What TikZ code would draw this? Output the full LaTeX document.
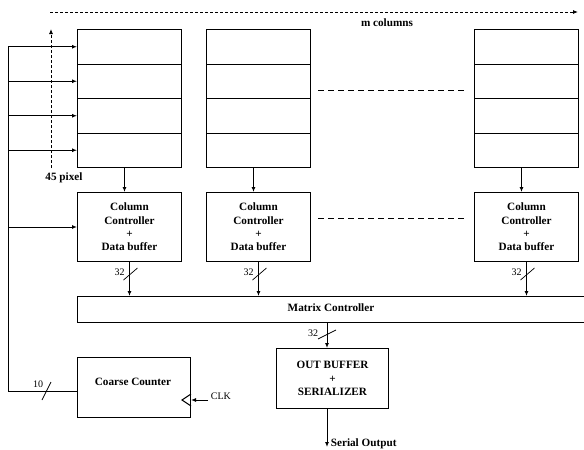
\documentclass[tikz,border=0pt]{standalone}
\usepackage{fontspec}
\setmainfont{Liberation Serif}
\usetikzlibrary{arrows.meta}

\begin{document}
\begin{tikzpicture}[x=1pt,y=-1pt,
		>={Latex[length=5pt,width=4pt]},
		line width=1pt,
		cell/.style={draw, anchor=north west, minimum width=104pt, minimum height=34.5pt, inner sep=0pt},
		box/.style={draw, anchor=north west, inner sep=0pt, align=center, font=\fontsize{11.2}{13.3}\selectfont\bfseries},
		lbl/.style={font=\fontsize{11.2}{12}\selectfont\bfseries},
		num/.style={font=\fontsize{10}{11}\selectfont},
		gap/.style={dashed, dash pattern=on 6pt off 4pt}]
		\useasboundingbox (0,0) rectangle (584,450);
		% Spalten
		\foreach \c/\x in {1/77, 2/206, 3/474} {
			\foreach \r in {1,...,4}
				\node[cell] (m\c\r) at (\x, 29+34.5*\r-34.5) {};
			\node[box, minimum width=104pt, minimum height=69pt] (cc\c) at (\x,192)
				{Column\\Controller\\+\\Data buffer};
		}
		\node[box, minimum width=510pt, minimum height=26pt] (mc) at (77,296) {};
		\node[lbl] (mcl) at (331,308) {Matrix Controller};
		\node[box, minimum width=112pt, minimum height=60pt] (ob) at (276,348)
			{OUT BUFFER\\+\\SERIALIZER};
		\node[box, minimum width=113pt, minimum height=60pt] (cnt) at (77,357) {};
		\node[lbl] (cntl) at (133,382) {Coarse Counter};
		% m Spalten, 45 pixel
		\draw[line width=0.8pt, dash pattern=on 3pt off 2pt, ->] (50,12) -- (578,12);
		\node[lbl] (mcol) at (387,23) {m columns};
		\draw[line width=0.8pt, dash pattern=on 3pt off 2pt, ->] (m14.south -| 51,0) -- (m11.north -| 51,0);
		\node[lbl] (pix) at (64,178) {45 pixel};
		\draw[gap] (318,90) -- (465,90);
		\draw[gap] (318,218) -- (465,218);
		% Verbindungen
		\foreach \c in {1,2,3} {
			\draw[->] ([xshift=-5pt]m\c4.south) -- ([xshift=-5pt]cc\c.north);
			\draw[->] (cc\c.south) -- (cc\c.south |- mc.north);
			\draw[line width=0.7pt] ([shift={(-6pt,-8pt)}]cc\c.south |- 0,272) -- ++(14,-12);
			\node[num, anchor=east] at ([shift={(-1pt,0pt)}]cc\c.south |- 0,272) {32};
		}
		\coordinate (bus) at (8,47);
		\draw (cnt.west |- 0,391) -| (bus);
		\foreach \r in {1,...,4}
			\draw[->] (bus |- m1\r.west) -- (m1\r.west);
		\draw[->] (bus |- cc1.west) -- (cc1.west);
		\draw[line width=0.7pt] (42,400) -- (51,382);
		\node[num] (ten) at (38,384) {10};
		% Ausgang
		\draw[->] (mc.south -| 327,0) -- (ob.north -| 327,0);
		\draw[line width=0.7pt] (318,339) -- (336,330);
		\node[num] (b32) at (313,333) {32};
		\coordinate (so) at (327,447);
		\draw[->] (ob.south -| so) -- (so) node[lbl, anchor=west, yshift=3pt] (sol) {Serial Output};
		% Takt
		\draw (cnt.east |- 0,394) -- (182,400) -- (cnt.east |- 0,406);
		\coordinate (clk) at (208,400);
		\draw[->] (clk) -- (191,400);
		\node[num, anchor=west] (clkl) at (207,396) {CLK};
	\end{tikzpicture}
\end{document}
